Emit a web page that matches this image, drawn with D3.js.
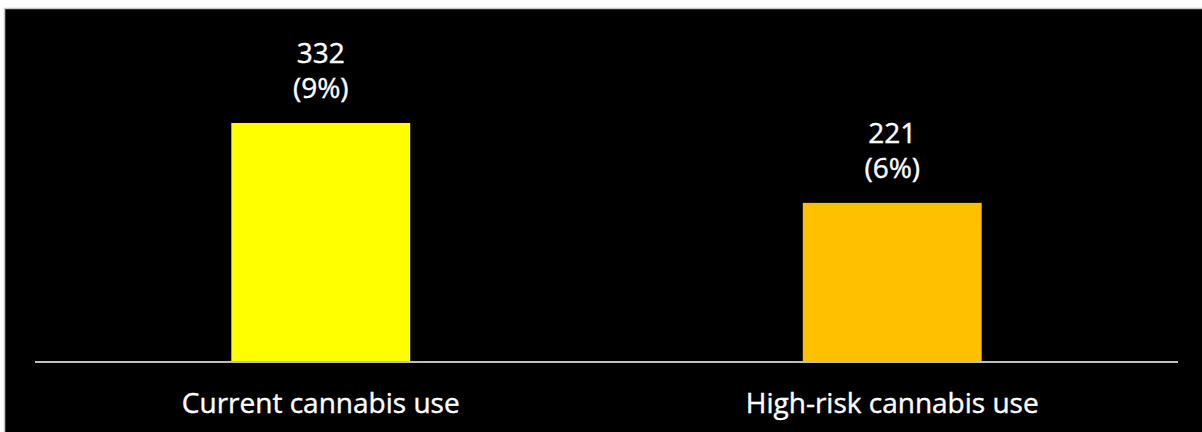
<!DOCTYPE html>
<html>
<head>
<meta charset="utf-8">
<script src="https://cdn.jsdelivr.net/npm/d3@7/dist/d3.min.js"></script>
<style>
  html, body { margin: 0; padding: 0; background: #ffffff; }
  svg { display: block; }
</style>
</head>
<body>
<svg id="chart" width="1202" height="432"></svg>
<script>
const categories = ["Current cannabis use", "High-risk cannabis use"];
const counts = [332, 221];
const percents = ["9%", "6%"];
const colors = ["#ffff00", "#ffc000"];

const W = 1202, H = 432;
const svg = d3.select("#chart");
const font = "'Open Sans', 'DejaVu Sans', sans-serif";
const fw = 400;
const fs = 28;

// frame
svg.append("rect").attr("x", 4.5).attr("y", 8.5).attr("width", W).attr("height", H)
  .attr("fill", "#000").attr("stroke", "#c8c8c8").attr("stroke-width", 1.5);

const baseY = 362;
const x = d3.scaleBand().domain(categories).range([35, 1178]).padding(0);
const y = d3.scaleLinear().domain([0, 400]).range([baseY, baseY - 288]);
const barW = x.bandwidth() * 0.313;

const data = categories.map((c, i) => ({ c, v: counts[i], p: percents[i], col: colors[i] }));

svg.selectAll("rect.bar").data(data).join("rect").attr("class", "bar")
  .attr("x", d => x(d.c) + x.bandwidth() / 2 - barW / 2)
  .attr("width", barW)
  .attr("y", d => y(d.v))
  .attr("height", d => y(0) - y(d.v))
  .attr("fill", d => d.col);

// axis line
svg.append("line").attr("x1", 35).attr("x2", 1178).attr("y1", baseY).attr("y2", baseY)
  .attr("stroke", "#bfbfbf").attr("stroke-width", 2);

// value labels
const lab = svg.selectAll("g.lab").data(data).join("g").attr("class", "lab");
lab.append("text")
  .attr("x", d => x(d.c) + x.bandwidth() / 2)
  .attr("y", d => y(d.v) - 60)
  .attr("text-anchor", "middle").attr("fill", "#fff")
  .attr("font-family", font).attr("font-size", fs).attr("font-weight", fw)
  .attr("stroke", "#fff").attr("stroke-width", 0.4)
  .text(d => d.v);
lab.append("text")
  .attr("x", d => x(d.c) + x.bandwidth() / 2)
  .attr("y", d => y(d.v) - 25)
  .attr("text-anchor", "middle").attr("fill", "#fff")
  .attr("font-family", font).attr("font-size", fs).attr("font-weight", fw)
  .attr("stroke", "#fff").attr("stroke-width", 0.4)
  .text(d => "(" + d.p + ")");

// category labels
svg.selectAll("text.cat").data(categories).join("text").attr("class", "cat")
  .attr("x", d => x(d) + x.bandwidth() / 2)
  .attr("y", 413)
  .attr("text-anchor", "middle").attr("fill", "#fff")
  .attr("font-family", font).attr("font-size", fs).attr("font-weight", fw)
  .attr("stroke", "#fff").attr("stroke-width", 0.4)
  .text(d => d);
</script>
</body>
</html>
